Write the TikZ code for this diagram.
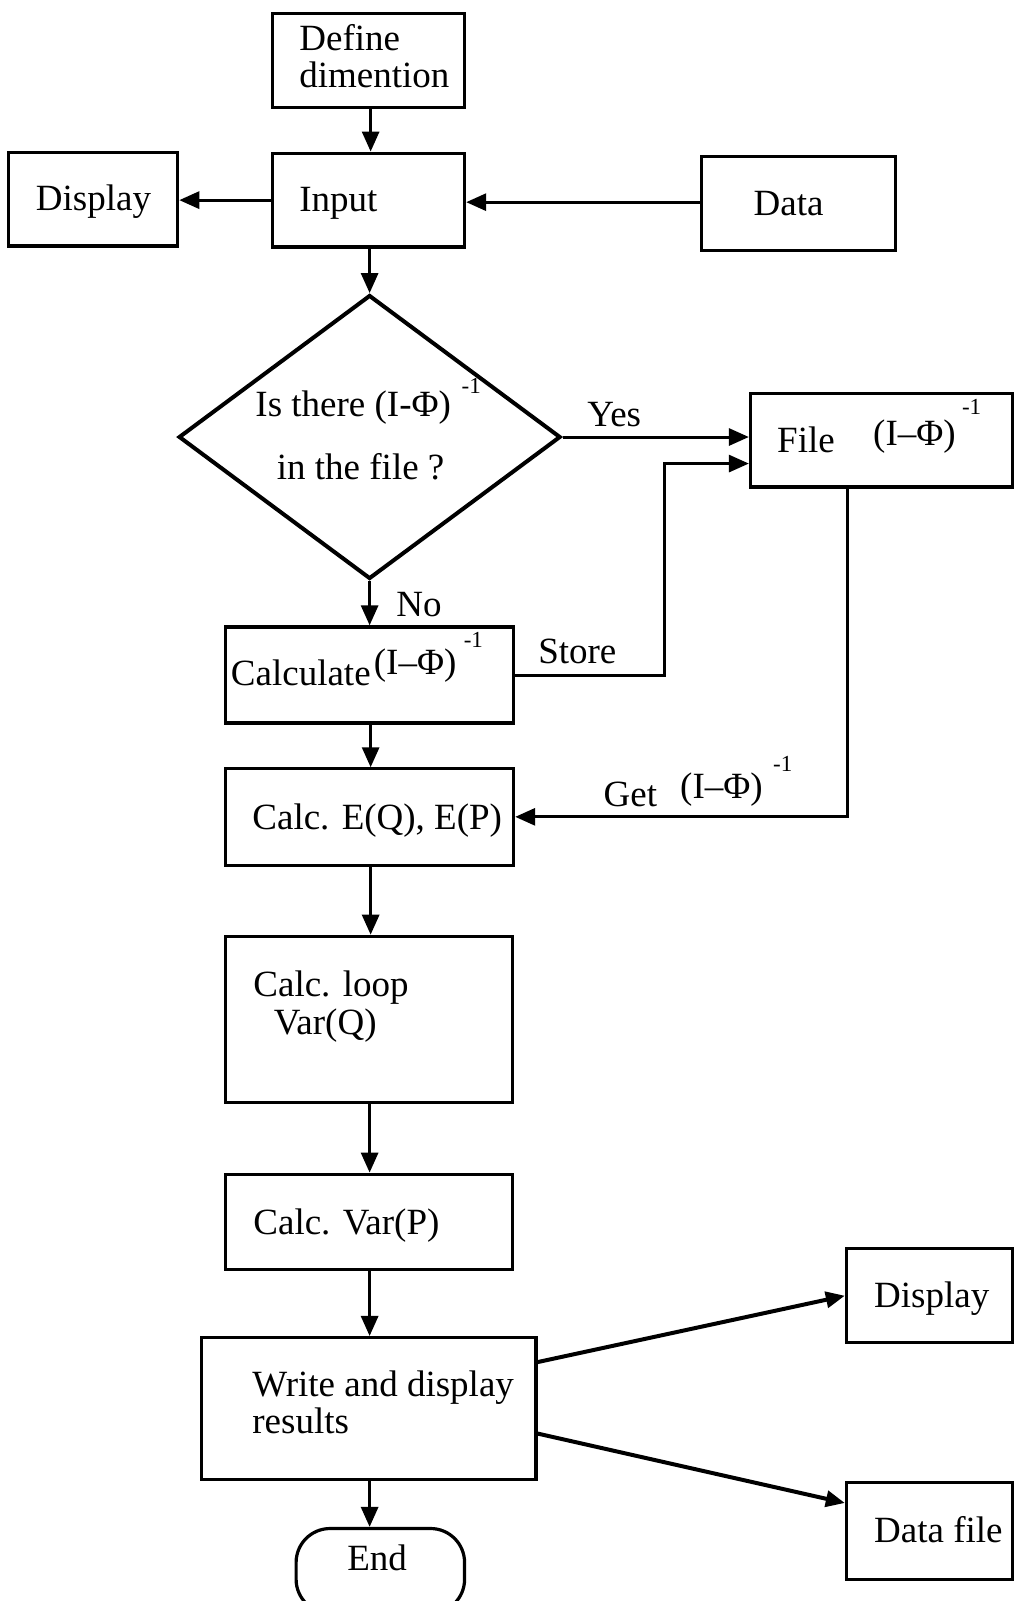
\documentclass[tikz,border=0pt]{standalone}
\usepackage{fontspec}
\setmainfont{Liberation Serif}
\usetikzlibrary{shapes.geometric,arrows.meta,fit,calc}
\begin{document}
\begin{tikzpicture}[x=1.0211pt,y=-1.0211pt,
  box/.style={draw, line width=3.2pt, inner sep=0pt, minimum size=1pt},
  conn/.style={line width=3pt, -{Triangle[length=20pt,width=17pt]}},
  thickconn/.style={line width=4pt, -{Triangle[length=19pt,width=16pt]}},
  lbl/.style={inner sep=0pt, anchor=base west, font=\fontsize{37}{40}\selectfont},
  supl/.style={inner sep=0pt, anchor=base west, font=\fontsize{23}{26}\selectfont}]
\useasboundingbox (0,0) rectangle (993,1568);
\clip (0,0) rectangle (993,1568);
\fill[white] (0,0) rectangle (993,1568);

% boxes
\node[box, fit={(267,13) (455,105)}] (def) {};
\node[box, fit={(267,150) (455,242)}] (inp) {};
\node[box, fit={(8,149) (174,241)}] (dispA) {};
\node[box, fit={(687,153) (877,245)}] (data) {};
\node[draw, shape=diamond, line width=4pt, inner sep=0pt,
      minimum width=381.9pt, minimum height=283.9pt] (dia) at (362,428) {};
\node[box, fit={(735,385) (991.5,477)}] (file) {};
\node[box, fit={(221,614) (503,708)}] (calc) {};
\node[box, fit={(221,753) (503,848)}] (calcE) {};
\node[box, fit={(221,917) (502,1080)}] (loop) {};
\node[box, fit={(221,1150) (502,1243)}] (varP) {};
\node[box, fit={(197,1310) (525,1449)}] (write) {};
\node[box, fit={(829,1223) (991.5,1315)}] (dispB) {};
\node[box, fit={(829,1452) (991.5,1547)}] (dfile) {};
\node[draw, line width=3.2pt, inner sep=0pt, rounded corners=34pt,
      fit={(290,1497) (455,1580)}] (endn) {};

% texts
\node[lbl] (tdef1) at (293,49) {Define};
\node[lbl] (tdef2) at (293,86) {dimention};
\node[lbl] (tdispA) at (35,206) {Display};
\node[lbl] (tinp) at (293,207) {Input};
\node[lbl] (tdata) at (738,211) {Data};
\node[lbl] (tq1) at (250,408) {Is there (I-Φ)};
\node[supl] (tq1s) at (452,385) {-1};
\node[lbl] (tq2) at (271,470) {in the file ?};
\node[lbl] (tyes) at (575,418) {Yes};
\node[lbl] (tfile) at (761,443) {File};
\node[lbl] (tfileb) at (855,436) {(I–Φ)};
\node[supl] (tfiles) at (942,406) {-1};
\node[lbl] (tno) at (388,604) {No};
\node[lbl] (tcalc) at (226,671) {Calculate};
\node[lbl] (tcalcb) at (366,661) {(I–Φ)};
\node[supl] (tcalcs) at (454,634) {-1};
\node[lbl] (tstore) at (527,650) {Store};
\node[lbl] (tget) at (591,790) {Get};
\node[lbl] (tgetb) at (666,782) {(I–Φ)};
\node[supl] (tgets) at (757,756) {-1};
\node[lbl] (tcalcE) at (247,812) {Calc. E(Q), E(P)};
\node[lbl] (tloop1) at (248,976) {Calc. loop};
\node[lbl] (tloop2) at (268,1013) {Var(Q)};
\node[lbl] (tvarP) at (248,1209) {Calc. Var(P)};
\node[lbl] (twrite1) at (247,1368) {Write and display};
\node[lbl] (twrite2) at (247,1404) {results};
\node[lbl] (tdispB) at (856,1281) {Display};
\node[lbl] (tdfile) at (856,1511) {Data file};
\node[lbl] (tend) at (340,1538) {End};

% helper coordinates
\coordinate (storeturn) at (651,454);
\coordinate (getx) at (830,800);

% connectors
\draw[conn] (def.south -| 363,0) -- (inp.north -| 363,0);
\draw[conn] (inp.west |- 0,196) -- (dispA.east |- 0,196);
\draw[conn] (data.west |- 0,198) -- (inp.east |- 0,198);
\draw[conn] (inp.south -| dia.north) -- (dia.north);
\draw[conn] (dia.east) -- (dia.east -| file.west);
\draw[conn] (dia.south) -- (calc.north -| dia.south);
\draw[conn] (calc.east |- 0,662) -- (storeturn |- 0,662) -- (storeturn) -- (storeturn -| file.west);
\draw[conn] (calc.south -| 363,0) -- (calcE.north -| 363,0);
\draw[conn] (file.south -| getx) -- (getx) -- (getx -| calcE.east);
\draw[conn] (calcE.south -| 363,0) -- (loop.north -| 363,0);
\draw[conn] (loop.south -| 362,0) -- (varP.north -| 362,0);
\draw[conn] (varP.south -| 362,0) -- (write.north -| 362,0);
\draw[thickconn] (write.east |- 0,1334) -- (dispB.west |- 0,1269);
\draw[thickconn] (write.east |- 0,1404) -- (dfile.west |- 0,1472);
\draw[conn] (write.south -| 362,0) -- (endn.north -| 362,0);
\end{tikzpicture}
\end{document}
